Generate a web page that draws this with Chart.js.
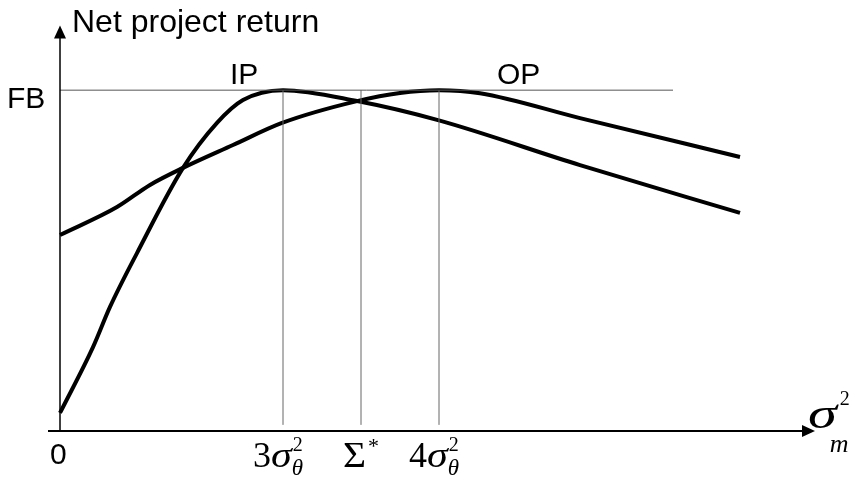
<!DOCTYPE html>
<html>
<head>
<meta charset="utf-8">
<script src="https://cdn.jsdelivr.net/npm/chart.js@4/dist/chart.umd.min.js"></script>
<style>
  body { margin: 0; background: #fff; }
  canvas { display: block; }
</style>
</head>
<body>
<canvas id="myChart" width="857" height="481"></canvas>
<script>
// values (x: arbitrary units, y: FB = 10)
const ipX = [0, 3.3, 5.0, 7.7, 12.3, 15.7, 18.3, 22.3, 29.7, 37.8, 52, 68];
const ipY = [0.53, 2.46, 3.64, 5.22, 7.72, 9.04, 9.71, 10, 9.68, 9.12, 7.80, 6.40];
const opX = [0, 5.7, 9.0, 12.3, 17.3, 22.2, 29.7, 34, 37.9, 42, 52, 68];
const opY = [5.75, 6.57, 7.22, 7.72, 8.39, 9.04, 9.68, 9.92, 10, 9.91, 9.18, 8.04];
const fbLevel = 10;
const fbEnd = 61.3;
const markX = [22.3, 30.1, 37.9]; // 3σθ², Σ*, 4σθ²
const markBottom = 0.18;

const toPoints = (xs, ys) => xs.map((x, i) => ({ x: x, y: ys[i] }));

const curve = (label, xs, ys) => ({
  label: label,
  data: toPoints(xs, ys),
  borderColor: '#000',
  borderWidth: 4,
  pointRadius: 0,
  cubicInterpolationMode: 'monotone',
  fill: false
});

const thinLine = (pts, color) => ({
  data: pts,
  borderColor: color,
  borderWidth: 1,
  pointRadius: 0,
  tension: 0,
  fill: false
});

const datasets = [
  thinLine([{ x: 0, y: fbLevel }, { x: fbEnd, y: fbLevel }], '#555'),
  ...markX.map(x => thinLine([{ x: x, y: markBottom }, { x: x, y: fbLevel }], '#666')),
  curve('IP', ipX, ipY),
  curve('OP', opX, opY)
];

const serif = '"Liberation Serif", "Times New Roman", serif';
const sans = '"Liberation Sans", Arial, sans-serif';

// draws a run of text pieces, each one after the previous
const drawRun = (ctx, x, y, pieces) => {
  pieces.forEach(p => {
    const sx = p.sx || 1;
    const dx = p.dx || 0;
    ctx.font = p.font;
    ctx.save();
    ctx.translate(x + dx, y + (p.dy || 0));
    ctx.scale(sx, 1);
    ctx.fillText(p.text, 0, 0);
    ctx.restore();
    if (!p.noAdvance) x += ctx.measureText(p.text).width * sx + dx;
  });
  return x;
};

const axesPlugin = {
  id: 'axesAndLabels',
  afterDraw(chart) {
    const ctx = chart.ctx;
    const xs = chart.scales.x;
    const ys = chart.scales.y;
    const x0 = xs.getPixelForValue(0);
    const y0 = ys.getPixelForValue(0);
    const yTop = ys.getPixelForValue(11.9);
    const xLeft = xs.getPixelForValue(-1.2);
    const xRight = xs.getPixelForValue(75.5);

    ctx.save();
    ctx.strokeStyle = '#000';
    ctx.fillStyle = '#000';
    // y axis
    ctx.lineWidth = 1.5;
    ctx.beginPath();
    ctx.moveTo(x0, y0);
    ctx.lineTo(x0, yTop + 10);
    ctx.stroke();
    ctx.beginPath();
    ctx.moveTo(x0, yTop);
    ctx.lineTo(x0 - 6, yTop + 13);
    ctx.lineTo(x0 + 6, yTop + 13);
    ctx.closePath();
    ctx.fill();
    // x axis
    ctx.lineWidth = 2;
    ctx.beginPath();
    ctx.moveTo(xLeft, y0);
    ctx.lineTo(xRight - 10, y0);
    ctx.stroke();
    ctx.beginPath();
    ctx.moveTo(xRight, y0);
    ctx.lineTo(xRight - 13, y0 - 6);
    ctx.lineTo(xRight - 13, y0 + 6);
    ctx.closePath();
    ctx.fill();

    // plain labels
    ctx.textBaseline = 'alphabetic';
    ctx.font = '32px ' + sans;
    ctx.fillText('Net project return', x0 + 12, 32);
    ctx.font = '30px ' + sans;
    ctx.fillText('FB', 7, ys.getPixelForValue(fbLevel) + 18);
    ctx.fillText('IP', 230, 84);
    ctx.fillText('OP', 497, 84);
    ctx.fillText('0', x0 - 10, 464);

    // tick labels under the vertical lines
    const base = 467;
    const sigmaLabel = (digit, L) => {
      const end = drawRun(ctx, L - 30, base, [
        { text: digit, font: '36px ' + serif },
        { text: 'σ', font: 'italic 35px ' + serif, sx: 1.2 }
      ]);
      drawRun(ctx, end + 1, base, [
        { text: '2', font: '20px ' + serif, dy: -16, noAdvance: true },
        { text: 'θ', font: 'italic 23px ' + serif, dy: 8, dx: -1 }
      ]);
    };
    sigmaLabel('3', xs.getPixelForValue(markX[0]));
    sigmaLabel('4', xs.getPixelForValue(markX[2]));
    const ls = xs.getPixelForValue(markX[1]);
    drawRun(ctx, ls - 18, base, [
      { text: 'Σ', font: '36px ' + serif, sx: 1.1 },
      { text: '*', font: '22px ' + serif, dy: -14, dx: 2 }
    ]);

    // axis name at the end of the x axis
    const sx = xRight - 7;
    const send = drawRun(ctx, sx, 428, [{ text: 'σ', font: 'italic 45px ' + serif, sx: 1.3 }]);
    ctx.font = '20px ' + serif;
    ctx.fillText('2', send + 3, 405);
    ctx.font = 'italic 26px ' + serif;
    ctx.fillText('m', send - 7, 452);
    ctx.restore();
  }
};

const ctx = document.getElementById('myChart').getContext('2d');

const chart = new Chart(ctx, {
  type: 'line',
  data: { datasets: datasets },
  options: {
    responsive: false,
    animation: false,
    layout: { padding: { left: 48, right: 47, top: 22, bottom: 50 } },
    plugins: { legend: { display: false }, tooltip: { enabled: false } },
    scales: {
      x: { type: 'linear', min: -1.2, max: 75, display: false },
      y: { type: 'linear', min: 0, max: 12, display: false }
    }
  },
  plugins: [axesPlugin]
});
</script>
</body>
</html>
